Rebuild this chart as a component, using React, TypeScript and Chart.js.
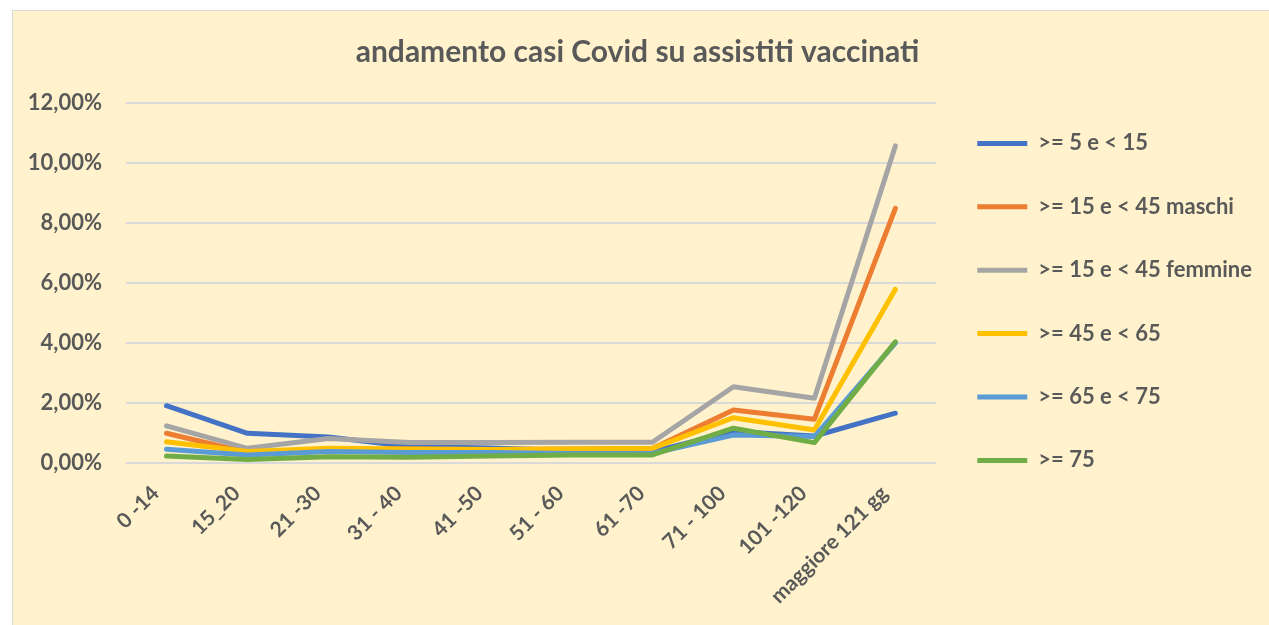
import React, { useEffect, useRef } from "react";
import { Chart, registerables } from "chart.js";

Chart.register(...registerables);

const categories = ["0 -14", "15_20", "21 -30", "31 - 40", "41 -50", "51 - 60", "61 -70", "71 - 100", "101 -120", "maggiore 121 gg"];

const seriesNames = [
  ">= 5 e < 15",
  ">= 15 e < 45 maschi",
  ">= 15 e < 45 femmine",
  ">= 45 e < 65",
  ">= 65 e < 75",
  ">= 75",
];

const seriesColors = ["#4472C4", "#ED7D31", "#A5A5A5", "#FFC000", "#5B9BD5", "#70AD47"];

// values in percent
const s5to15 = [1.91, 0.99, 0.87, 0.55, 0.5, 0.42, 0.38, 1.05, 0.9, 1.66];
const s15to45m = [0.99, 0.35, 0.45, 0.47, 0.45, 0.47, 0.48, 1.77, 1.46, 8.49];
const s15to45f = [1.24, 0.49, 0.82, 0.68, 0.68, 0.69, 0.69, 2.54, 2.16, 10.57];
const s45to65 = [0.71, 0.38, 0.49, 0.47, 0.45, 0.47, 0.49, 1.51, 1.1, 5.79];
const s65to75 = [0.46, 0.27, 0.38, 0.35, 0.35, 0.32, 0.32, 0.93, 0.88, 4.0];
const s75 = [0.23, 0.12, 0.21, 0.19, 0.23, 0.27, 0.27, 1.16, 0.68, 4.04];

const seriesValues = [s5to15, s15to45m, s15to45f, s45to65, s65to75, s75];

const yTicksMax = 12;
const yTicksStep = 2;

const TEXT = "#595959";
const FAMILY = "Lato";
const CANVAS_W = 1256;
const CANVAS_H = 614;
const LEGEND_SIZE = 22;

export default function App() {
  const ref = useRef<HTMLCanvasElement | null>(null);

  useEffect(() => {
    if (!ref.current) return;
    const legendPad = 63.4 - LEGEND_SIZE;
    const boxW = 50;

    const shiftLegend = {
      id: "shiftLegend",
      afterLayout(c: any) {
        if (c.legend) c.legend.top += 80;
      },
    };

    const chart = new Chart(ref.current, {
      type: "line",
      data: {
        labels: categories,
        datasets: seriesValues.map((vals, i) => ({
          label: seriesNames[i],
          data: vals.map((v) => v / 100),
          borderColor: seriesColors[i],
          backgroundColor: seriesColors[i],
          borderWidth: 5,
          borderCapStyle: "round" as const,
          borderJoinStyle: "round" as const,
          pointRadius: 0,
          tension: 0,
          order: seriesValues.length - i,
        })),
      },
      options: {
        responsive: false,
        animation: false,
        layout: { padding: { left: 0, right: 7, top: 0, bottom: 0 } },
        plugins: {
          tooltip: { enabled: false },
          title: {
            display: true,
            text: "andamento casi Covid su assistiti vaccinati",
            color: TEXT,
            font: { family: FAMILY, size: 30, weight: "bold" },
            padding: { top: 23, bottom: 33 },
          },
          legend: {
            position: "right",
            align: "start",
            maxWidth: 420,
            labels: {
              usePointStyle: true,
              pointStyle: "line",
              pointStyleWidth: boxW,
              padding: legendPad,
              color: TEXT,
              font: { family: FAMILY, size: LEGEND_SIZE, weight: "bold" },
              sort: (a: any, b: any) => a.datasetIndex - b.datasetIndex,
            },
          },
        },
        scales: {
          x: {
            offset: true,
            grid: { display: false },
            border: { display: false },
            ticks: {
              autoSkip: false,
              minRotation: 45,
              maxRotation: 45,
              color: TEXT,
              font: { family: FAMILY, size: 21, weight: "bold" },
              padding: 10,
              labelOffset: -11,
            },
            afterFit: (scale: any) => {
              scale.height = 162;
            },
          },
          y: {
            min: 0,
            max: yTicksMax / 100,
            grid: { color: "#D9D9D9", lineWidth: 2, drawTicks: false },
            border: { display: false },
            ticks: {
              stepSize: yTicksStep / 100,
              padding: 24,
              color: TEXT,
              font: { family: FAMILY, size: 22, weight: "bold" },
              callback: (v: any) => (Number(v) * 100).toFixed(2).replace(".", ",") + "%",
            },
            afterFit: (scale: any) => {
              scale.width = 113;
            },
          },
        },
      },
      plugins: [shiftLegend],
    });

    return () => chart.destroy();
  }, []);

  return (
    <div style={{ position: "fixed", left: 0, top: 0, width: 1269, height: 625, background: "#FFFFFF", overflow: "hidden" }}>
      <div
        style={{
          position: "absolute",
          left: 12,
          top: 10,
          width: 1257,
          height: 615,
          background: "#FFF2CC",
          borderLeft: "1px solid #D9D9D9",
          borderTop: "1px solid #D9D9D9",
          boxSizing: "border-box",
        }}
      >
        <canvas ref={ref} width={CANVAS_W} height={CANVAS_H} style={{ display: "block" }} />
      </div>
    </div>
  );
}
